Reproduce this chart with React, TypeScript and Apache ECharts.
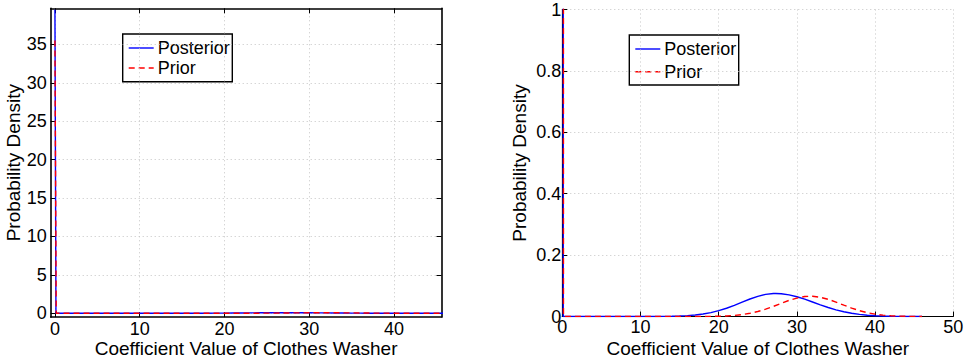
import React, { useEffect, useRef } from "react";
import * as echarts from "echarts";

// Spike-and-slab densities for the clothes washer coefficient
const postX = [0, 0.12, 5, 10, 11, 12, 13, 14, 15, 16, 17, 18, 19, 20, 21, 22, 23, 24, 25, 26, 27, 27.3, 28, 29, 30, 31, 32, 33, 34, 35, 36, 37, 38, 39, 40, 41, 42, 43, 44, 45, 46];
const postY = [39.5, 0, 0, 0, 0.0001, 0.0002, 0.0004, 0.0008, 0.0015, 0.0028, 0.0048, 0.008, 0.0127, 0.019, 0.0269, 0.036, 0.0465, 0.057, 0.0654, 0.072, 0.0748, 0.075, 0.0742, 0.0706, 0.0644, 0.0564, 0.0473, 0.0381, 0.0294, 0.0218, 0.0155, 0.0106, 0.0069, 0.0043, 0.0026, 0.0015, 0.0008, 0.0004, 0.0002, 0.0001, 0];

const priorX = [0, 0.15, 5, 10, 15, 18, 19, 20, 21, 22, 23, 24, 25, 26, 27, 28, 29, 30, 31, 31.7, 32, 33, 34, 35, 36, 37, 38, 39, 40, 41, 42, 43, 44, 45, 46];
const priorY = [35.5, 0, 0, 0, 0, 0.0001, 0.0004, 0.0009, 0.0018, 0.0035, 0.0062, 0.0104, 0.0162, 0.0239, 0.0331, 0.043, 0.0526, 0.06, 0.065, 0.066, 0.0658, 0.0626, 0.056, 0.047, 0.037, 0.0274, 0.019, 0.0125, 0.0077, 0.0044, 0.0024, 0.0012, 0.0006, 0.0003, 0.0001];

// Tick labels
const leftXTicks = [0, 10, 20, 30, 40];
const leftYTicks = [0, 5, 10, 15, 20, 25, 30, 35];

const seriesNames = ["Posterior", "Prior"];
const xTitle = "Coefficient Value of Clothes Washer";
const yTitle = "Probability Density";

const FONT = '"Liberation Sans", Arial, Helvetica, sans-serif';
const BLUE = "#0000ff";
const RED = "#ff0000";
const GRIDLINE = { show: true, lineStyle: { color: "#c4c4c4", width: 1, type: [1, 3] as number[] } };

function pairs(xs: number[], ys: number[]) {
  return xs.map((x, i) => [x, ys[i]]);
}

function legendBox(left: number, top: number, w: number, h: number, rowGap: number) {
  const lx0 = left + 6;
  const lx1 = left + 31;
  const tx = left + 35;
  const r1 = top + 14;
  const r2 = r1 + rowGap;
  return {
    type: "group",
    children: [
      { type: "rect", shape: { x: left, y: top, width: w, height: h }, style: { fill: "#fff", stroke: "#000", lineWidth: 1.4 } },
      { type: "line", shape: { x1: lx0, y1: r1, x2: lx1, y2: r1 }, style: { stroke: BLUE, lineWidth: 1.4 } },
      { type: "text", x: tx, y: r1, style: { text: seriesNames[0], font: `18px ${FONT}`, fill: "#000", verticalAlign: "middle", align: "left" } },
      { type: "line", shape: { x1: lx0, y1: r2, x2: lx1, y2: r2 }, style: { stroke: RED, lineWidth: 1.4, lineDash: [6, 4] } },
      { type: "text", x: tx, y: r2, style: { text: seriesNames[1], font: `18px ${FONT}`, fill: "#000", verticalAlign: "middle", align: "left" } },
    ],
  };
}

export default function App() {
  const ref = useRef<HTMLDivElement>(null);

  useEffect(() => {
    if (!ref.current) return;
    const chart = echarts.init(ref.current, null, { renderer: "svg" });

    const label = { color: "#000", fontFamily: FONT, fontSize: 18 };
    const xLabel = { ...label, lineHeight: 14 };
    const nameStyle = { color: "#000", fontFamily: FONT, fontSize: 19 };
    const boxLine = { show: true, onZero: false, lineStyle: { color: "#000", width: 1.6 } };
    const thinLine = { show: true, onZero: false, lineStyle: { color: "#000", width: 1.2 } };

    chart.setOption({
      animation: false,
      backgroundColor: "#fff",
      grid: [
        { left: 50.7, top: 8.3, width: 390.8, height: 308.8, containLabel: false, outerBoundsMode: "none" },
        { left: 562.3, top: 9.5, width: 391, height: 307, containLabel: false, outerBoundsMode: "none" },
      ],
      xAxis: [
        {
          type: "value", gridIndex: 0, position: "bottom", min: -0.5, max: 45.6,
          axisLine: boxLine,
          axisTick: { show: true, inside: true, length: 5, customValues: leftXTicks, lineStyle: { color: "#000" } },
          axisLabel: { ...xLabel, margin: 5, customValues: leftXTicks },
          splitLine: GRIDLINE,
          name: xTitle, nameLocation: "middle", nameGap: 22, nameMoveOverlap: false, nameTextStyle: nameStyle,
        },
        {
          type: "value", gridIndex: 0, position: "top", min: -0.5, max: 45.6,
          axisLine: boxLine,
          axisTick: { show: true, inside: true, length: 5, customValues: leftXTicks, lineStyle: { color: "#000" } },
          axisLabel: { show: false },
          splitLine: { show: false },
        },
        {
          type: "value", gridIndex: 1, position: "bottom", min: 0, max: 50, interval: 10,
          axisLine: thinLine,
          axisTick: { show: true, inside: true, length: 5, lineStyle: { color: "#000" } },
          axisLabel: { ...xLabel, margin: 3.5 },
          splitLine: GRIDLINE,
          name: xTitle, nameLocation: "middle", nameGap: 22, nameMoveOverlap: false, nameTextStyle: nameStyle,
        },
      ],
      yAxis: [
        {
          type: "value", gridIndex: 0, position: "left", min: -0.5, max: 39.7,
          axisLine: boxLine,
          axisTick: { show: true, inside: true, length: 5, customValues: leftYTicks, lineStyle: { color: "#000" } },
          axisLabel: { ...label, margin: 4, customValues: leftYTicks },
          splitLine: GRIDLINE,
          name: yTitle, nameLocation: "middle", nameGap: 28, nameMoveOverlap: false, nameTextStyle: nameStyle,
        },
        {
          type: "value", gridIndex: 0, position: "right", min: -0.5, max: 39.7,
          axisLine: boxLine,
          axisTick: { show: true, inside: true, length: 5, customValues: leftYTicks, lineStyle: { color: "#000" } },
          axisLabel: { show: false },
          splitLine: { show: false },
        },
        {
          type: "value", gridIndex: 1, position: "left", min: 0, max: 1, interval: 0.2,
          axisLine: thinLine,
          axisTick: { show: true, inside: true, length: 5, lineStyle: { color: "#000" } },
          axisLabel: { ...label, margin: 1 },
          splitLine: GRIDLINE,
          name: yTitle, nameLocation: "middle", nameGap: 33, nameMoveOverlap: false, nameTextStyle: nameStyle,
        },
      ],
      series: [
        { name: seriesNames[0], type: "line", xAxisIndex: 0, yAxisIndex: 0, data: pairs(postX, postY), showSymbol: false, symbol: "none", lineStyle: { color: BLUE, width: 1.4 }, z: 3 },
        { name: seriesNames[1], type: "line", xAxisIndex: 0, yAxisIndex: 0, data: pairs(priorX, priorY), showSymbol: false, symbol: "none", lineStyle: { color: RED, width: 1.4, type: [6, 4] }, z: 4 },
        { name: seriesNames[0], type: "line", xAxisIndex: 2, yAxisIndex: 2, data: pairs(postX, postY), showSymbol: false, symbol: "none", lineStyle: { color: BLUE, width: 1.4 }, z: 3 },
        { name: seriesNames[1], type: "line", xAxisIndex: 2, yAxisIndex: 2, data: pairs(priorX, priorY), showSymbol: false, symbol: "none", lineStyle: { color: RED, width: 1.4, type: [6, 4] }, z: 4 },
      ],
      graphic: [legendBox(122.7, 34, 109.6, 47.7, 20), legendBox(629.3, 35, 109.4, 50, 22.7)],
    });

    return () => chart.dispose();
  }, []);

  return <div ref={ref} style={{ position: "fixed", left: 0, top: 0, width: 969, height: 364, background: "#fff" }} />;
}
